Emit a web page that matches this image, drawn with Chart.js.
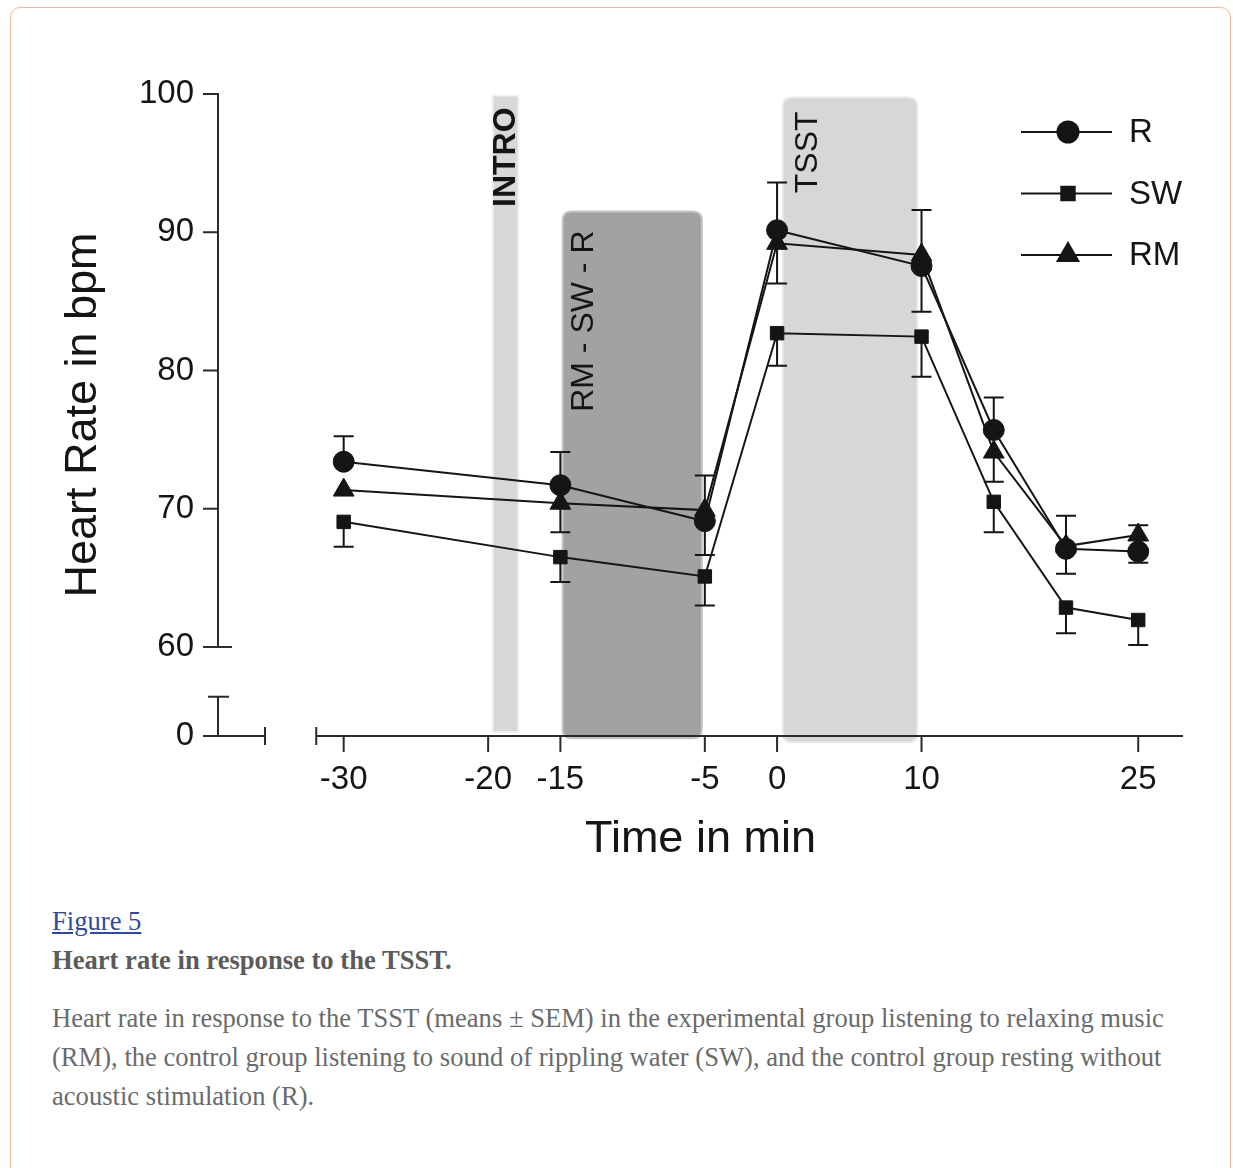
<!DOCTYPE html>
<html>
<head>
<meta charset="utf-8">
<script src="https://cdn.jsdelivr.net/npm/chart.js@4.4.1/dist/chart.umd.min.js"></script>
<style>
  body { margin: 0; background: #fff; width: 1233px; height: 1168px; overflow: hidden; position: relative; }
  .card { position: absolute; left: 10px; top: 7px; width: 1221px; height: 1300px; border: 1px solid #ebbb9f; border-radius: 10px; box-sizing: border-box; }
  #chartBox { position: absolute; left: 0; top: 0; width: 1233px; height: 880px; }
  .cap { position: absolute; left: 52px; width: 1150px; font-family: "Liberation Serif", "Times New Roman", serif; font-size: 26.6px; line-height: 39px; }
  .cap a { color: #2e4b9a; text-decoration: underline; }
  #figLink { top: 902px; }
  #figTitle { top: 941px; font-weight: bold; color: #5b5b5b; }
  #figText { top: 999px; color: #6a6a6a; }
</style>
</head>
<body>
<div class="card"></div>
<div id="chartBox"><canvas id="hrChart" width="1233" height="880"></canvas></div>
<div class="cap" id="figLink"><a href="#">Figure 5</a></div>
<div class="cap" id="figTitle">Heart rate in response to the TSST.</div>
<div class="cap" id="figText">Heart rate in response to the TSST (means ± SEM) in the experimental group listening to relaxing music (RM), the control group listening to sound of rippling water (SW), and the control group resting without acoustic stimulation (R).</div>

<script>
// data
const times = [-30, -15, -5, 0, 10, 15, 20, 25];

const hrR  = [73.4, 71.7, 69.1, 90.15, 87.55, 75.7, 67.1, 66.9];
const hrSW = [69.05, 66.5, 65.1, 82.7, 82.45, 70.5, 62.85, 61.95];
const hrRM = [71.35, 70.4, 69.9, 89.2, 88.35, 74.1, 67.3, 68.1];

// visible error bars (one-sided where the plot only shows one side)
const semRup   = [1.85, 2.4, null, 3.45, 4.05, 2.35, 2.4, null];
const semRdown = [null, null, 2.45, null, 3.3, null, 1.8, 0.8];
const semSWup   = [null, null, null, null, null, null, null, null];
const semSWdown = [1.8, 1.8, 2.1, 2.35, 2.9, 2.2, 1.85, 1.8];
const semRMup   = [null, null, 2.5, null, null, null, null, 0.7];
const semRMdown = [null, 2.1, null, 2.9, null, 2.15, null, null];

const seriesNames = ['R', 'SW', 'RM'];

const xTicks = [-30, -20, -15, -5, 0, 10, 25];
const yTicks = [53.56, 60, 70, 80, 90, 100];
const yTickLabels = ['0', '60', '70', '80', '90', '100'];

const phaseNames  = ['INTRO', 'RM - SW - R', 'TSST'];
const phaseStart  = [-19.7, -14.85, 0.4];
const phaseEnd    = [-17.9, -5.2, 9.7];
const phaseTop    = [99.9, 91.5, 99.75];
const phaseBottom = [53.85, 53.4, 53.1];

const Y_STUB_TOP = 56.4;
const X_AXIS_START = -31.9;

const FONT = '"Liberation Sans", Arial, sans-serif';
const INK = '#151515';

function boxPath(ctx, x, y, w, h, r) {
  ctx.beginPath();
  ctx.moveTo(x + r, y);
  ctx.lineTo(x + w - r, y);
  ctx.quadraticCurveTo(x + w, y, x + w, y + r);
  ctx.lineTo(x + w, y + h - r);
  ctx.quadraticCurveTo(x + w, y + h, x + w - r, y + h);
  ctx.lineTo(x + r, y + h);
  ctx.quadraticCurveTo(x, y + h, x, y + h - r);
  ctx.lineTo(x, y + r);
  ctx.quadraticCurveTo(x, y, x + r, y);
  ctx.closePath();
}

const phaseStyle = [
  { fill: '#d8d8d8', edge: '#f2f2f2', r: 0, font: 'bold 32px ' + FONT, dx: 14, dy: 12 },
  { fill: '#a2a2a2', edge: '#c6c6c6', r: 9, font: '32px ' + FONT, dx: 22, dy: 19 },
  { fill: '#d7d7d7', edge: '#e8e8e8', r: 9, font: '32px ' + FONT, dx: 25, dy: 14 }
];

const phasesPlugin = {
  id: 'phases',
  beforeDatasetsDraw(chart) {
    const { ctx, scales: { x, y } } = chart;
    ctx.save();
    phaseNames.forEach((name, i) => {
      const st = phaseStyle[i];
      const l = x.getPixelForValue(phaseStart[i]), r = x.getPixelForValue(phaseEnd[i]);
      const t = y.getPixelForValue(phaseTop[i]), b = y.getPixelForValue(phaseBottom[i]);
      boxPath(ctx, l, t, r - l, b - t, st.r);
      ctx.fillStyle = st.fill;
      ctx.fill();
      ctx.strokeStyle = st.edge;
      ctx.lineWidth = 2;
      ctx.stroke();
      ctx.save();
      ctx.translate(l + st.dx, t + st.dy);
      ctx.rotate(-Math.PI / 2);
      ctx.font = st.font;
      ctx.fillStyle = INK;
      ctx.textAlign = 'right';
      ctx.textBaseline = 'middle';
      ctx.fillText(name, 0, 0);
      ctx.restore();
    });
    ctx.restore();
  }
};

const axesPlugin = {
  id: 'brokenAxes',
  beforeDatasetsDraw(chart) {
    const { ctx, chartArea: a, scales: { x, y } } = chart;
    const ax = a.left, by = a.bottom;
    const seg = (x1, y1, x2, y2) => { ctx.beginPath(); ctx.moveTo(x1, y1); ctx.lineTo(x2, y2); ctx.stroke(); };
    ctx.save();
    ctx.strokeStyle = '#2a2a2a';
    ctx.lineWidth = 2;
    seg(ax, y.getPixelForValue(100) - 1, ax, y.getPixelForValue(60));
    [60, 70, 80, 90, 100].forEach(v => {
      const p = y.getPixelForValue(v);
      seg(ax - 15, p, ax + (v === 60 ? 14 : 1), p);
    });
    const capY = y.getPixelForValue(Y_STUB_TOP);
    seg(ax, by, ax, capY);
    seg(ax - 10, capY, ax + 11, capY);
    seg(ax - 15, by, ax + 47, by);
    seg(ax + 47, by - 9, ax + 47, by + 9);
    const xs = x.getPixelForValue(X_AXIS_START);
    seg(xs, by, a.right, by);
    seg(xs, by - 9, xs, by + 9);
    xTicks.forEach(v => {
      const p = x.getPixelForValue(v);
      seg(p, by, p, by + 16);
    });
    ctx.restore();
  }
};

const errUp = [semRup, semSWup, semRMup];
const errDown = [semRdown, semSWdown, semRMdown];
const means = [hrR, hrSW, hrRM];

const errorBarPlugin = {
  id: 'errorBars',
  beforeDatasetsDraw(chart) {
    const { ctx, scales: { x, y } } = chart;
    ctx.save();
    ctx.strokeStyle = INK;
    ctx.lineWidth = 2;
    means.forEach((m, s) => {
      times.forEach((t, i) => {
        const px = x.getPixelForValue(t);
        [[errUp[s][i], 1], [errDown[s][i], -1]].forEach(([e, dir]) => {
          if (e == null) return;
          const p0 = y.getPixelForValue(m[i]);
          const p1 = y.getPixelForValue(m[i] + dir * e);
          ctx.beginPath();
          ctx.moveTo(px, p0); ctx.lineTo(px, p1);
          ctx.moveTo(px - 10, p1); ctx.lineTo(px + 10, p1);
          ctx.stroke();
        });
      });
    });
    ctx.restore();
  }
};

const legendPlugin = {
  id: 'lineLegend',
  afterDraw(chart) {
    const { ctx, chartArea: a } = chart;
    ctx.save();
    chart.data.datasets.forEach((ds, i) => {
      const yy = a.top + 38 + i * 61.5;
      const mx = a.right - 115;
      ctx.strokeStyle = INK;
      ctx.lineWidth = 2;
      ctx.beginPath();
      ctx.moveTo(a.right - 162, yy);
      ctx.lineTo(a.right - 71, yy);
      ctx.stroke();
      ctx.fillStyle = INK;
      Chart.helpers.drawPoint(ctx, { pointStyle: ds.pointStyle, radius: ds.pointRadius, rotation: 0, borderWidth: 1 }, mx, yy);
      ctx.font = '33px ' + FONT;
      ctx.textAlign = 'left';
      ctx.textBaseline = 'middle';
      ctx.fillText(ds.label, a.right - 54, yy + 1);
    });
    ctx.restore();
  }
};

function series(label, values, style, radius) {
  return {
    label: label,
    data: times.map((t, i) => ({ x: t, y: values[i] })),
    borderColor: INK,
    borderWidth: 2,
    backgroundColor: INK,
    pointBackgroundColor: INK,
    pointBorderColor: INK,
    pointBorderWidth: 1,
    pointStyle: style,
    pointRadius: radius,
    tension: 0
  };
}

new Chart(document.getElementById('hrChart'), {
  type: 'line',
  data: {
    datasets: [
      series(seriesNames[0], hrR, 'circle', 10.5),
      series(seriesNames[1], hrSW, 'rect', 9.5),
      series(seriesNames[2], hrRM, 'triangle', 12)
    ]
  },
  options: {
    responsive: false,
    animation: false,
    layout: { padding: { left: 0, top: 94, right: 50, bottom: 0 } },
    plugins: { legend: { display: false }, tooltip: { enabled: false } },
    scales: {
      x: {
        type: 'linear',
        min: -38.7,
        max: 28.1,
        afterFit: s => { s.height = 144; },
        afterBuildTicks: s => { s.ticks = xTicks.map(v => ({ value: v })); },
        grid: { display: false, drawTicks: false },
        border: { display: false },
        ticks: { autoSkip: false, maxRotation: 0, padding: 24, color: INK, font: { family: FONT, size: 33 } },
        title: { display: true, text: 'Time in min', color: INK, font: { family: FONT, size: 45 }, padding: { top: 0, bottom: 13 } }
      },
      y: {
        type: 'linear',
        min: 53.56,
        max: 100,
        afterFit: s => { s.width = 218; },
        afterBuildTicks: s => { s.ticks = yTicks.map(v => ({ value: v })); },
        grid: { display: false, drawTicks: false },
        border: { display: false },
        ticks: { autoSkip: false, padding: 24, color: INK, font: { family: FONT, size: 33 },
                 callback: (v, i) => yTickLabels[i] },
        title: { display: true, text: 'Heart Rate in bpm', color: INK, font: { family: FONT, size: 45 }, padding: { top: 57, bottom: 0 } }
      }
    }
  },
  plugins: [phasesPlugin, axesPlugin, errorBarPlugin, legendPlugin]
});
</script>
</body>
</html>
